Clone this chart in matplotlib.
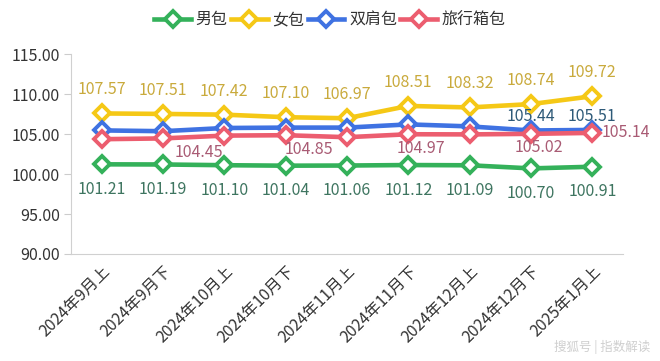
import matplotlib
matplotlib.use("Agg")
import matplotlib.pyplot as plt
from matplotlib.lines import Line2D

plt.rcParams['font.family'] = ['Noto Sans CJK SC', 'DejaVu Sans']

periods = ["2024年9月上", "2024年9月下", "2024年10月上", "2024年10月下", "2024年11月上",
           "2024年11月下", "2024年12月上", "2024年12月下", "2025年1月上"]
men = [101.21, 101.19, 101.10, 101.04, 101.06, 101.12, 101.09, 100.70, 100.91]
women = [107.57, 107.51, 107.42, 107.10, 106.97, 108.51, 108.32, 108.74, 109.72]
backpack = [105.45, 105.35, 105.75, 105.80, 105.80, 106.20, 105.95, 105.44, 105.51]
luggage = [104.35, 104.45, 104.80, 104.85, 104.60, 104.97, 104.95, 105.02, 105.14]
names = ["男包", "女包", "双肩包", "旅行箱包"]

# which points carry a value label (the chart hides overlapping ones)
men_lab = list(range(9))
women_lab = list(range(9))
backpack_lab = [7, 8]
luggage_lab = [1, 3, 5, 7, 8]

colors = ["#34b15a", "#f5c816", "#3f72e2", "#ec5d6f"]
label_colors = ["#3e7560", "#c9aa3c", "#2e5a78", "#a95b74"]

fig = plt.figure(figsize=(6.6, 3.61), dpi=100)
ax = fig.add_axes([0.1076, 0.2964, 0.8364, 0.5540])

x = list(range(len(periods)))
series = [men, women, backpack, luggage]
shown = [men_lab, women_lab, backpack_lab, luggage_lab]
# label offsets in points (dx, dy)
offs = [(0, -18), (0, 17), (0, 10), (0, -10)]
lug_dx = {1: 26, 3: 17, 5: 9, 7: 6, 8: 24}

for s, vals in enumerate(series):
    ax.plot(x, vals, color=colors[s], lw=3.3, marker="D", ms=8.5,
            mfc="white", mec=colors[s], mew=2.8, solid_capstyle="round", zorder=3 + s)

for s, vals in enumerate(series):
    for i in shown[s]:
        dx, dy = offs[s]
        if s == 3:
            dx = lug_dx[i]
        if s == 3 and i == 8:
            dy = 0
        ax.annotate(f"{vals[i]:.2f}", (i, vals[i]), xytext=(dx, dy), textcoords="offset points",
                    ha="center", va="center", fontsize=11.5, color=label_colors[s], zorder=10)

ax.set_xlim(-0.5, len(periods) - 0.5)
ax.set_ylim(90, 115)
ax.set_yticks([90, 95, 100, 105, 110, 115])
ax.set_yticklabels([f"{v:.2f}" for v in [90, 95, 100, 105, 110, 115]], fontsize=11.5, color="#333333")
ax.set_xticks(x)
ax.set_xticklabels(periods, rotation=45, ha="right", rotation_mode="anchor", fontsize=11.5, color="#333333")
ax.tick_params(axis="x", length=0, pad=6)
ax.tick_params(axis="y", length=5, color="#cccccc", pad=3)
for sp in ["top", "right"]:
    ax.spines[sp].set_visible(False)
ax.spines["left"].set_color("#d0d0d0")
ax.spines["bottom"].set_color("#d0d0d0")

handles = []
for c in colors:
    ln = Line2D([], [], color=c, lw=3.3, marker="D", ms=8, mfc="white", mec=c, mew=2.8)
    handles.append(ln)
fig.legend(handles, names, loc="center", bbox_to_anchor=(0.5, 0.945), ncol=4, frameon=False,
           fontsize=11.5, handlelength=2.3, handletextpad=0.3, columnspacing=0.2, labelcolor="#333333")

fig.text(0.985, 0.04, "搜狐号 | 指数解读", ha="right", va="center", fontsize=9, color="#cfcfcf")

fig.savefig("out.png", dpi=100)
